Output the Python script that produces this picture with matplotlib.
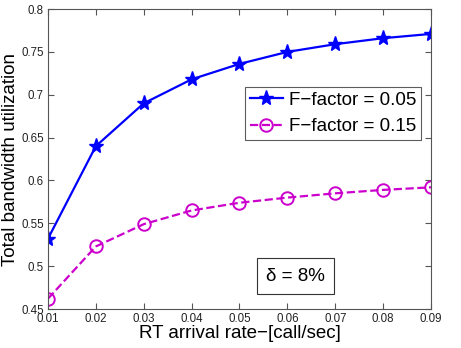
import matplotlib
matplotlib.use("Agg")
import matplotlib.pyplot as plt

# data
rate = [0.01, 0.02, 0.03, 0.04, 0.05, 0.06, 0.07, 0.08, 0.09]
util_005 = [0.532, 0.640, 0.690, 0.718, 0.736, 0.750, 0.759, 0.766, 0.771]
util_015 = [0.462, 0.523, 0.549, 0.565, 0.574, 0.580, 0.585, 0.589, 0.592]
xtick_labels = ["0.01", "0.02", "0.03", "0.04", "0.05", "0.06", "0.07", "0.08", "0.09"]
yticks = [0.45, 0.5, 0.55, 0.6, 0.65, 0.7, 0.75, 0.8]
ytick_labels = ["0.45", "0.5", "0.55", "0.6", "0.65", "0.7", "0.75", "0.8"]

plt.rcParams["font.family"] = ["Liberation Sans", "DejaVu Sans"]

fig = plt.figure(figsize=(4.61, 3.48), dpi=100)
ax = fig.add_axes([0.104, 0.112, 0.831, 0.862])

ax.plot(rate, util_005, "-", color="#0000ff", lw=1.6, marker="*", ms=11,
        mfc="#0000ff", mec="#0000ff", label="F\u2212factor = 0.05")
ax.plot(rate, util_015, "--", color="#cc00cc", lw=1.6, marker="o", ms=9,
        mfc="none", mec="#cc00cc", mew=1.4, label="F\u2212factor = 0.15")

ax.set_xlim(0.01, 0.09)
ax.set_ylim(0.45, 0.8)
ax.set_xticks(rate)
ax.set_xticklabels(xtick_labels)
ax.set_yticks(yticks)
ax.set_yticklabels(ytick_labels)
ax.tick_params(direction="in", top=True, right=True, labelsize=8.3, length=4,
               color="#555555", labelcolor="#222222", pad=3)
for s in ax.spines.values():
    s.set_color("#555555")

ax.set_xlabel("RT arrival rate\u2212[call/sec]", fontsize=13.5, labelpad=0)
ax.set_ylabel("Total bandwidth utilization", fontsize=13.5)
ax.yaxis.set_label_coords(-0.076, 0.5)

leg = ax.legend(loc="upper left", bbox_to_anchor=(0.514, 0.74), fontsize=13.5,
                frameon=True, fancybox=False, handlelength=1.8, borderpad=0.25,
                labelspacing=0.5, handletextpad=0.3, borderaxespad=0)
leg.get_frame().set_edgecolor("#333333")
leg.get_frame().set_linewidth(0.8)

ax.text(0.0617, 0.4885, "\u03b4 = 8%", fontsize=13.5, ha="center", va="center",
        bbox=dict(boxstyle="square,pad=0.5", fc="white", ec="#333333", lw=0.8))

fig.savefig("out.png", dpi=100)
